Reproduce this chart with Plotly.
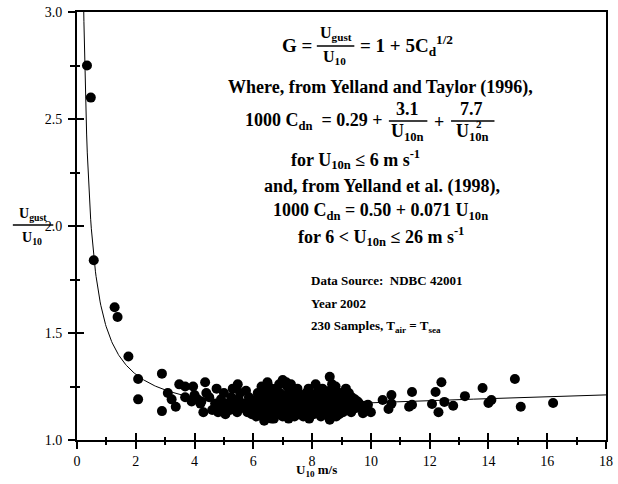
import numpy as np
import plotly.graph_objects as go

# ---------------- data ----------------
obs_u10 = [
    0.34, 0.47, 0.57, 1.28, 1.38, 1.75, 2.08, 2.08, 2.89, 2.89,
    3.09, 3.22, 3.36, 3.48, 3.68, 3.68, 3.95, 4.0, 4.36, 4.23, 4.3,
    3.9, 4.1, 4.2, 4.4,
    4.5, 4.6, 4.7, 4.75, 4.8, 4.9, 4.95, 5.0, 5.05, 5.1, 5.2, 5.25, 5.3, 5.35,
    5.45, 5.47, 5.5, 5.55, 5.6, 5.7, 5.75, 5.8, 5.85, 5.9, 5.95, 6.0,
    6.05, 6.1, 6.1, 6.15, 6.2, 6.2, 6.25, 6.3, 6.3, 6.35, 6.37, 6.4, 6.4, 6.45,
    6.48, 6.5, 6.5, 6.55, 6.6, 6.6, 6.65, 6.7, 6.7, 6.75, 6.8, 6.8, 6.85, 6.9,
    6.9, 6.95, 7.0, 7.0, 6.98, 6.52, 6.28, 6.12, 6.42, 6.62, 6.88, 6.78,
    7.05, 7.1, 7.1, 7.15, 7.2, 7.2, 7.25, 7.3, 7.3, 7.35, 7.4, 7.4, 7.45, 7.5,
    7.5, 7.55, 7.6, 7.6, 7.65, 7.7, 7.7, 7.75, 7.8, 7.8, 7.85, 7.9, 7.9, 7.95,
    8.0, 8.0, 7.12, 7.28, 7.62, 7.42, 7.18, 7.52, 7.72, 7.88, 7.33, 7.08,
    8.05, 8.1, 8.1, 8.15, 8.2, 8.2, 8.25, 8.3, 8.3, 8.35, 8.4, 8.4, 8.45, 8.5,
    8.5, 8.55, 8.6, 8.6, 8.6, 8.65, 8.7, 8.7, 8.75, 8.8, 8.8, 8.85, 8.9, 8.9,
    8.95, 9.0, 8.12, 8.28, 8.48, 8.68, 8.82, 8.38, 8.58, 8.22, 8.92, 8.02,
    9.05, 9.1, 9.1, 9.15, 9.2, 9.2, 9.25, 9.3, 9.33, 9.35, 9.4, 9.45, 9.5,
    9.55, 9.66, 9.73, 9.6, 9.8, 9.9, 10.0,
    10.4, 10.7, 10.7, 10.6, 11.4, 11.4, 11.3, 12.4, 12.2, 12.08, 12.5, 12.3,
    12.8, 13.2, 13.8, 14.0, 14.1, 14.9, 15.1, 16.2,
]
obs_gust_ratio = [
    2.75, 2.60, 1.84, 1.62, 1.575, 1.39, 1.285, 1.19, 1.31, 1.135,
    1.22, 1.19, 1.155, 1.26, 1.25, 1.20, 1.25, 1.21, 1.27, 1.18, 1.13,
    1.18, 1.19, 1.17, 1.22,
    1.20, 1.14, 1.17, 1.24, 1.13, 1.19, 1.15, 1.22, 1.12, 1.17, 1.14, 1.20, 1.24, 1.16,
    1.13, 1.26, 1.19, 1.22, 1.15, 1.17, 1.23, 1.13, 1.20, 1.16, 1.12, 1.18,
    1.14, 1.19, 1.11, 1.22, 1.16, 1.13, 1.18, 1.20, 1.12, 1.15, 1.09, 1.17, 1.23, 1.14,
    1.27, 1.19, 1.11, 1.16, 1.21, 1.13, 1.18, 1.10, 1.15, 1.24, 1.17, 1.12, 1.20, 1.14,
    1.22, 1.16, 1.28, 1.11, 1.19, 1.25, 1.25, 1.16, 1.20, 1.10, 1.26, 1.13,
    1.17, 1.13, 1.21, 1.25, 1.15, 1.10, 1.19, 1.23, 1.13, 1.17, 1.11, 1.20, 1.15, 1.18,
    1.24, 1.12, 1.16, 1.21, 1.14, 1.19, 1.11, 1.17, 1.22, 1.13, 1.15, 1.18, 1.10, 1.20,
    1.14, 1.17, 1.27, 1.26, 1.13, 1.16, 1.18, 1.14, 1.16, 1.24, 1.20, 1.15,
    1.12, 1.19, 1.15, 1.22, 1.17, 1.13, 1.20, 1.11, 1.16, 1.24, 1.18, 1.14, 1.21, 1.12,
    1.16, 1.19, 1.295, 1.095, 1.23, 1.15, 1.18, 1.12, 1.21, 1.16, 1.25, 1.13, 1.19, 1.15,
    1.22, 1.17, 1.26, 1.14, 1.20, 1.26, 1.11, 1.16, 1.17, 1.15, 1.12, 1.21,
    1.13, 1.20, 1.16, 1.24, 1.18, 1.14, 1.22, 1.17, 1.13, 1.20, 1.16, 1.19, 1.15,
    1.18, 1.155, 1.125, 1.17, 1.16, 1.165, 1.13,
    1.187, 1.21, 1.17, 1.145, 1.224, 1.165, 1.155, 1.27, 1.224, 1.168, 1.178, 1.13,
    1.16, 1.205, 1.243, 1.173, 1.187, 1.285, 1.155, 1.173,
]

x_ticks = [0, 2, 4, 6, 8, 10, 12, 14, 16, 18]
y_ticks = [1.0, 1.5, 2.0, 2.5, 3.0]

# model curve: G = 1 + 5 Cd^(1/2), Yelland & Taylor (1996) / Yelland et al. (1998)
u_model = np.linspace(0.12, 18.5, 800)
cd_model = np.where(u_model <= 6,
                    (0.29 + 3.1 / u_model + 7.7 / u_model ** 2) / 1000.0,
                    (0.50 + 0.071 * u_model) / 1000.0)
g_model = 1 + 5 * np.sqrt(cd_model)

# ---------------- layout helpers ----------------
W, H = 618, 484
L, R, T, B = 77, 5, 12, 44
SERIF = "Liberation Serif, Times New Roman, serif"


def px(x):
    return (x - L) / (W - L - R)


def py(y):
    return (H - B - y) / (H - T - B)


fig = go.Figure()
fig.add_trace(go.Scatter(x=u_model, y=g_model, mode="lines",
                         line=dict(color="black", width=1),
                         xaxis="x2", yaxis="y2", hoverinfo="skip",
                         showlegend=False))
fig.add_trace(go.Scatter(x=obs_u10, y=obs_gust_ratio, mode="markers",
                         marker=dict(color="black", size=10, line=dict(width=0)),
                         showlegend=False))

tickfont = dict(family=SERIF, size=14, color="black")
common = dict(showgrid=False, zeroline=False, color="black")
fig.update_layout(
    width=W, height=H,
    margin=dict(l=L, r=R, t=T, b=B),
    paper_bgcolor="white", plot_bgcolor="white",
    xaxis=dict(range=[0, 18], tickvals=x_ticks, ticks="outside", ticklen=7,
               tickwidth=1.5, showline=True, linewidth=2, linecolor="black",
               mirror=True, tickfont=tickfont,
               minor=dict(dtick=1, tick0=0, ticks="outside", ticklen=3,
                          tickwidth=1.5, tickcolor="black"),
               **common),
    yaxis=dict(range=[1, 3], tickvals=y_ticks, tickformat=".1f",
               ticks="outside", ticklen=7, tickwidth=1.5, showline=True,
               linewidth=2, linecolor="black", mirror=True, tickfont=tickfont,
               ticklabelstandoff=3,
               minor=dict(dtick=0.25, tick0=1, ticks="outside", ticklen=5,
                          tickwidth=1.5, tickcolor="black"),
               **common),
    xaxis2=dict(range=[0, 18], overlaying="x", anchor="y2", side="bottom",
                tickvals=x_ticks, ticks="inside", ticklen=7, tickwidth=1.5,
                showticklabels=False, showline=False,
                minor=dict(dtick=1, tick0=0, ticks="inside", ticklen=3,
                           tickwidth=1.5, tickcolor="black"),
                **common),
    yaxis2=dict(range=[1, 3], overlaying="y", anchor="x2", side="left",
                tickvals=y_ticks, ticks="inside", ticklen=7, tickwidth=1.5,
                showticklabels=False, showline=False,
                minor=dict(dtick=0.25, tick0=1, ticks="inside", ticklen=3,
                           tickwidth=1.5, tickcolor="black"),
                **common),
)

annots = []
shapes = []


def txt(x, y, s, size=18, xanchor="center", yanchor="middle"):
    annots.append(dict(x=px(x), y=py(y), xref="paper", yref="paper",
                       text="<b>" + s + "</b>", showarrow=False,
                       xanchor=xanchor, yanchor=yanchor,
                       font=dict(family=SERIF, size=size, color="black")))


def bar(x0, x1, y):
    shapes.append(dict(type="line", xref="paper", yref="paper",
                       x0=px(x0), x1=px(x1), y0=py(y), y1=py(y),
                       line=dict(color="black", width=1.5)))


# y-axis title (fraction)
txt(32, 214, "U<sub>gust</sub>", size=14)
bar(12, 53, 225)
txt(31, 238, "U<sub>10</sub>", size=14)

# x-axis title
txt(320, 470, "U<sub>10</sub> m/s", size=13)

# equation line 1
txt(283, 46, "G =", size=19, xanchor="left")
txt(339, 34, "U<sub>gust</sub>", size=16)
bar(320, 358, 46)
txt(338, 58, "U<sub>10</sub>", size=16)
txt(362, 46, "= 1 + 5C<sub>d</sub><sup>1/2</sup>", size=19, xanchor="left")

# line 2
txt(385, 87, "Where, from Yelland and Taylor (1996),")

# line 3
txt(245, 122, "1000 C<sub>dn</sub>&nbsp;&nbsp;= 0.29 +", xanchor="left")
txt(412, 109, "3.1")
bar(393, 432, 121)
txt(412, 132, "U<sub>10n</sub>")
txt(444, 122, "+")
txt(477, 109, "7.7")
bar(456, 500, 121)
txt(478, 132, "U<sub>10n</sub>")
txt(484, 124, "2", size=11)

# line 4
txt(292, 159, "for U<sub>10n</sub> ≤ 6 m s<sup>-1</sup>", xanchor="left")
# line 5
txt(386, 186, "and, from Yelland et al. (1998),")
# line 6
txt(385, 211, "1000 C<sub>dn</sub> = 0.50 + 0.071 U<sub>10n</sub>")
# line 7
txt(385, 236, "for 6 &lt; U<sub>10n</sub> ≤ 26 m s<sup>-1</sup>")

# data source block
txt(312, 280, "Data Source:&nbsp;&nbsp;NDBC 42001", size=13, xanchor="left")
txt(312, 303, "Year 2002", size=13, xanchor="left")
txt(312, 326, "230 Samples, T<sub>air</sub> = T<sub>sea</sub>", size=13,
    xanchor="left")

fig.update_layout(annotations=annots, shapes=shapes)
fig.write_html("out.html")
